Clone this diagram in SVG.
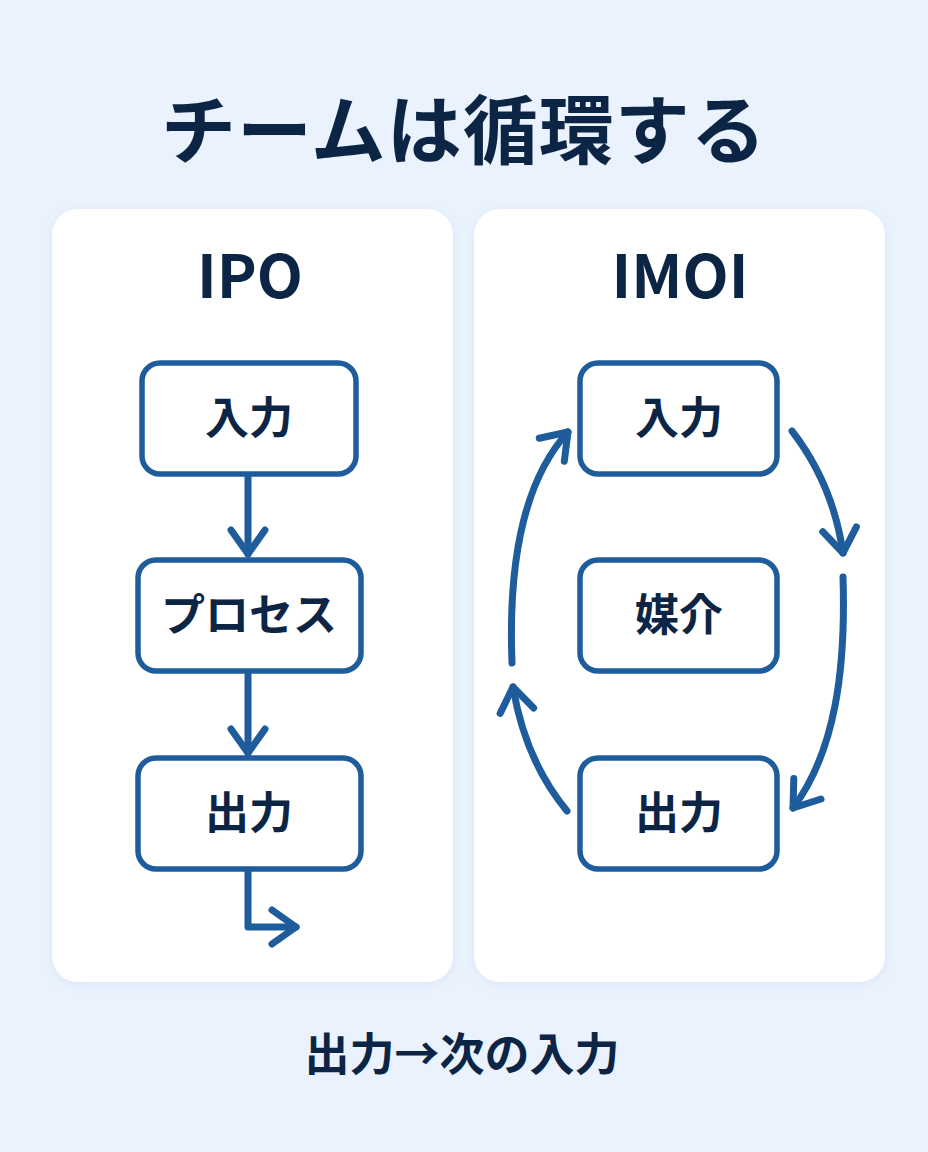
<svg xmlns="http://www.w3.org/2000/svg" width="928" height="1152" viewBox="0 0 928 1152">
<defs>
<style>
.jp{font-family:"Noto Sans CJK JP","Noto Sans",sans-serif;fill:#0d2545;text-anchor:middle;font-weight:700}
.box{fill:#ffffff;stroke:#1f5c9c;stroke-width:5.5}
.conn{fill:none;stroke:#1f5c9c;stroke-width:7;stroke-linecap:round;stroke-linejoin:round}
.panel{fill:#ffffff}
</style>
<marker id="ah" markerUnits="userSpaceOnUse" viewBox="-30 -20 34 40" refX="0" refY="0" markerWidth="34" markerHeight="40" orient="auto" overflow="visible">
<path d="M-24,-17 L0,0 L-24,17" fill="none" stroke="#1f5c9c" stroke-width="7" stroke-linecap="round" stroke-linejoin="round"/>
</marker>
<filter id="sh" x="-10%" y="-10%" width="120%" height="120%">
<feDropShadow dx="0" dy="2" stdDeviation="4" flood-color="#9fb7d6" flood-opacity="0.18"/>
</filter>
</defs>
<rect x="0" y="0" width="928" height="1152" fill="#e9f2fd"/>
<text class="jp" x="464" y="158" font-size="75" font-weight="900" letter-spacing="1">チームは循環する</text>

<g id="panel-ipo">
<rect class="panel" x="52" y="209" width="401" height="773" rx="26" filter="url(#sh)"/>
<text class="jp" x="250" y="298" font-size="60">IPO</text>
</g>
<g id="panel-imoi">
<rect class="panel" x="474" y="209" width="411" height="773" rx="26" filter="url(#sh)"/>
<text class="jp" x="680" y="298" font-size="60">IMOI</text>
</g>

<g id="ipo-input">
<rect class="box" x="142" y="363" width="214" height="111" rx="18"/>
<text class="jp" x="249" y="434" font-size="44">入力</text>
</g>
<g id="ipo-process">
<rect class="box" x="138" y="560" width="223" height="111" rx="18"/>
<text class="jp" x="249" y="631" font-size="44">プロセス</text>
</g>
<g id="ipo-output">
<rect class="box" x="138" y="758" width="223" height="111" rx="18"/>
<text class="jp" x="249" y="829" font-size="44">出力</text>
</g>

<g id="imoi-input">
<rect class="box" x="580" y="363" width="197" height="111" rx="18"/>
<text class="jp" x="679" y="434" font-size="44">入力</text>
</g>
<g id="imoi-mediator">
<rect class="box" x="580" y="560" width="197" height="111" rx="18"/>
<text class="jp" x="679" y="631" font-size="44">媒介</text>
</g>
<g id="imoi-output">
<rect class="box" x="580" y="758" width="197" height="111" rx="18"/>
<text class="jp" x="679" y="829" font-size="44">出力</text>
</g>

<g id="connectors">
<path class="conn" d="M248,477 L248,554" marker-end="url(#ah)"/>
<path class="conn" d="M248,674 L248,753" marker-end="url(#ah)"/>
<path class="conn" d="M248,872 L248,927 L296,927" marker-end="url(#ah)"/>
<path class="conn" d="M792,431 Q833,484 843,553" marker-end="url(#ah)"/>
<path class="conn" d="M843,577 C846,670 835,752 793,808" marker-end="url(#ah)"/>
<path class="conn" d="M567,811 Q525,760 513,687" marker-end="url(#ah)"/>
<path class="conn" d="M512,663 C508,560 524,480 568,432" marker-end="url(#ah)"/>
</g>

<text class="jp" x="462" y="1071" font-size="45">出力→次の入力</text>
</svg>
